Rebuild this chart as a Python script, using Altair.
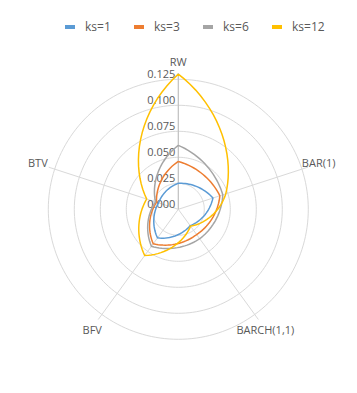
import altair as alt
import pandas as pd

# ---- data ----
axes_names = ["RW", "BAR(1)", "BARCH(1,1)", "BFV", "BTV"]
series_names = ["ks=1", "ks=3", "ks=6", "ks=12"]
ks1 = [0.025, 0.035, 0.0195, 0.034, 0.020]
ks3 = [0.046, 0.042, 0.030, 0.041, 0.022]
ks6 = [0.0615, 0.045, 0.035, 0.044, 0.023]
ks12 = [0.130, 0.048, 0.020, 0.055, 0.032]
tick_values = [0.0, 0.025, 0.05, 0.075, 0.1, 0.125]
tick_labels = ["0.000", "0.025", "0.050", "0.075", "0.100", "0.125"]
colors = ["#5B9BD5", "#ED7D31", "#A5A5A5", "#FFC000"]
RMAX = 0.131

# ---- geometry (plot area, px per unit) ----
W, H = 341, 377
CX, CY, K = 170.3, 201.3, 1040.0
XDOM = [-CX / K, (W - CX) / K]
YDOM = [-(H - CY) / K, CY / K]
FONT = "Open Sans"
TXT = "#595959"
WCART = 0.35  # share of straight-chord vs. polar sweep in the radar edges

def X(f="x"):
    return alt.X(f"{f}:Q", scale=alt.Scale(domain=XDOM, nice=False, zero=False), axis=None)

def Y(f="y"):
    return alt.Y(f"{f}:Q", scale=alt.Scale(domain=YDOM, nice=False, zero=False), axis=None)

N = len(axes_names)
rows = []
for name, vals in zip(series_names, [ks1, ks3, ks6, ks12]):
    for j in range(N):
        rows.append({"series": name, "j": j, "v0": vals[j], "v1": vals[(j + 1) % N]})
df = pd.DataFrame(rows)

grid_df = pd.DataFrame({"r": tick_values[1:]})
grid = (
    alt.Chart(grid_df)
    .transform_calculate(a="sequence(0, 362, 2)")
    .transform_flatten(["a"])
    .transform_calculate(x="datum.r*sin(datum.a*PI/180)", y="datum.r*cos(datum.a*PI/180)")
    .mark_line(stroke="#D9D9D9", strokeWidth=1)
    .encode(x=X(), y=Y(), detail="r:Q", order="a:Q")
)

spk_df = pd.DataFrame({"axis": axes_names, "i": list(range(N))})
spoke_base = alt.Chart(spk_df).transform_calculate(
    t="datum.i*2*PI/5",
    x0="0",
    y0="0",
    x=f"{RMAX}*sin(datum.t)",
    y=f"{RMAX}*cos(datum.t)",
)
spokes = spoke_base.mark_rule(stroke="#D9D9D9", strokeWidth=1).encode(
    x=X("x0"), y=Y("y0"), x2="x:Q", y2="y:Q"
)
axisline = (
    spoke_base.transform_filter("datum.i == 0")
    .mark_rule(stroke="#BFBFBF", strokeWidth=1)
    .encode(x=X("x0"), y=Y("y0"), x2="x:Q", y2="y:Q")
)

tick_df = pd.DataFrame({"v": tick_values, "label": tick_labels})
ticktext = (
    alt.Chart(tick_df)
    .transform_calculate(x="0", y="datum.v")
    .mark_text(align="right", baseline="alphabetic", dx=-3, dy=-1, font=FONT, fontSize=11, color=TXT)
    .encode(x=X(), y=Y(), text="label:N")
)

label_style = {
    "RW": dict(align="center", baseline="middle", dx=0, dy=-10),
    "BAR(1)": dict(align="left", baseline="middle", dx=-6, dy=-3),
    "BARCH(1,1)": dict(align="center", baseline="middle", dx=7, dy=11),
    "BFV": dict(align="center", baseline="middle", dx=-6, dy=11),
    "BTV": dict(align="right", baseline="middle", dx=-1, dy=-3),
}
names = []
for nm in axes_names:
    st = label_style[nm]
    names.append(
        spoke_base.transform_filter(alt.datum.axis == nm)
        .mark_text(font=FONT, fontSize=11, color=TXT, **st)
        .encode(x=X(), y=Y(), text="axis:N")
    )

w = WCART
lines = (
    alt.Chart(df)
    .transform_calculate(s="sequence(0, 1.0001, 0.05)")
    .transform_flatten(["s"])
    .transform_calculate(
        a0="datum.j*2*PI/5",
        a1="(datum.j+1)*2*PI/5",
        th="(datum.j+datum.s)*2*PI/5",
        rp="datum.v0 + (datum.v1-datum.v0)*datum.s",
        key="datum.j + datum.s",
    )
    .transform_calculate(
        cx="datum.v0*sin(datum.a0) + (datum.v1*sin(datum.a1) - datum.v0*sin(datum.a0))*datum.s",
        cy="datum.v0*cos(datum.a0) + (datum.v1*cos(datum.a1) - datum.v0*cos(datum.a0))*datum.s",
    )
    .transform_calculate(
        x=f"{1 - w}*datum.rp*sin(datum.th) + {w}*datum.cx",
        y=f"{1 - w}*datum.rp*cos(datum.th) + {w}*datum.cy",
    )
    .mark_line(strokeWidth=1.5)
    .encode(
        x=X(),
        y=Y(),
        color=alt.Color(
            "series:N",
            scale=alt.Scale(domain=series_names, range=colors),
            legend=alt.Legend(
                title=None,
                orient="none",
                legendX=55,
                legendY=12,
                direction="horizontal",
                symbolType="stroke",
                symbolStrokeWidth=4,
                symbolSize=100,
                labelFont=FONT,
                labelFontSize=12,
                labelColor=TXT,
                labelOffset=8,
                columnPadding=15,
                padding=0,
            ),
        ),
        detail="series:N",
        order="key:Q",
    )
)

chart = (
    alt.layer(grid, spokes, axisline, ticktext, *names, lines)
    .properties(width=W, height=H, padding=0, autosize="none")
    .configure_view(stroke=None)
)
chart.save("out.html", embed_options={"renderer": "svg", "actions": False})
